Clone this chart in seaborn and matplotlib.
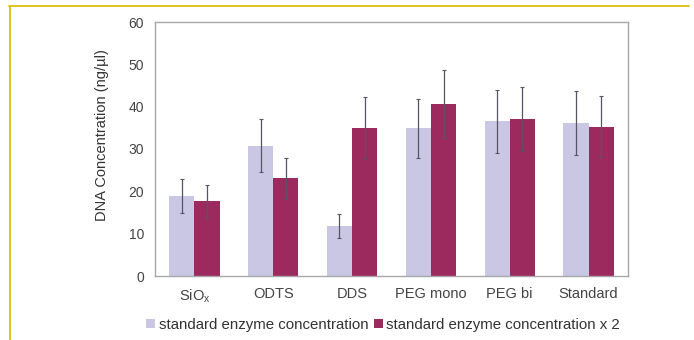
import matplotlib
matplotlib.use("Agg")
import matplotlib.pyplot as plt
import seaborn as sns
import pandas as pd
import numpy as np
from matplotlib.lines import Line2D
from matplotlib.patches import Patch

categories = ["SiO$_\\mathregular{x}$", "ODTS", "DDS", "PEG mono", "PEG bi", "Standard"]
series_names = ["standard enzyme concentration", "standard enzyme concentration x 2"]
values_std = [18.9, 30.8, 11.8, 34.9, 36.5, 36.2]
values_x2 = [17.6, 23.1, 34.9, 40.6, 37.1, 35.3]
err_std = [3.9, 6.3, 2.8, 7.0, 7.4, 7.6]
err_x2 = [3.8, 4.8, 7.3, 8.1, 7.5, 7.3]
colors = ["#C9C7E3", "#9C2A5F"]

sns.set_style("white")
plt.rcParams["font.family"] = ["Liberation Sans", "DejaVu Sans"]
plt.rcParams["mathtext.fontset"] = "custom"
plt.rcParams["mathtext.rm"] = "Liberation Sans"

df = pd.DataFrame({
    "category": categories * 2,
    "series": [series_names[0]] * 6 + [series_names[1]] * 6,
    "value": values_std + values_x2,
    "err": err_std + err_x2,
})

fig = plt.figure(figsize=(6.94, 3.40), dpi=100)
ax = fig.add_axes([155 / 694, 64 / 340, 473 / 694, 254 / 340])

sns.barplot(data=df, x="category", y="value", hue="series", palette=colors,
            errorbar=None, width=0.64, ax=ax, legend=False, saturation=1,
            linewidth=0)

# error bars from the drawn bars
for cont, errs in zip(ax.containers, [err_std, err_x2]):
    xs = [p.get_x() + p.get_width() / 2 for p in cont.patches]
    hs = [p.get_height() for p in cont.patches]
    ax.errorbar(xs, hs, yerr=errs, fmt="none", ecolor="#555566",
                elinewidth=0.9, capsize=1.2, capthick=0.8)

ax.set_ylim(0, 60)
ax.set_xlim(-0.5, 5.5)
ax.set_yticks(range(0, 61, 10))
ax.set_xlabel("")
ax.set_ylabel("DNA Concentration (ng/µl)", fontsize=10.5, color="#333333")
ax.yaxis.set_label_coords(-0.097, 0.553)
ax.tick_params(axis="y", direction="in", length=2.5, width=0.7, color="#999999",
               labelsize=10, labelcolor="#444444", pad=8)
ax.tick_params(axis="x", length=0, labelsize=10.5, labelcolor="#444444", pad=8)
ax.set_xticks(np.arange(-0.5, 6.0, 1.0), minor=True)
ax.tick_params(axis="x", which="minor", direction="out", length=2, width=0.8,
               color="#999999")
for s in ax.spines.values():
    s.set_color("#A8A8A8")
    s.set_linewidth(1.0)

handles = [Patch(facecolor=c, edgecolor="none") for c in colors]
fig.legend(handles, series_names, loc="center", bbox_to_anchor=(383 / 694, 1 - 325 / 340),
           ncol=2, frameon=False, fontsize=10.8, handlelength=0.6, handleheight=0.6,
           handletextpad=0.25, columnspacing=0.35, labelcolor="#333333",
           borderpad=0, borderaxespad=0)

gold = "#E2BC0A"
fig.add_artist(Line2D([9 / 694, 689 / 694], [1 - 5.5 / 340, 1 - 5.5 / 340],
                      transform=fig.transFigure, color=gold, linewidth=1.3))
fig.add_artist(Line2D([9.5 / 694, 9.5 / 694], [0, 1 - 5.5 / 340],
                      transform=fig.transFigure, color=gold, linewidth=1.3))

fig.savefig("out.png", dpi=100, facecolor="white")
